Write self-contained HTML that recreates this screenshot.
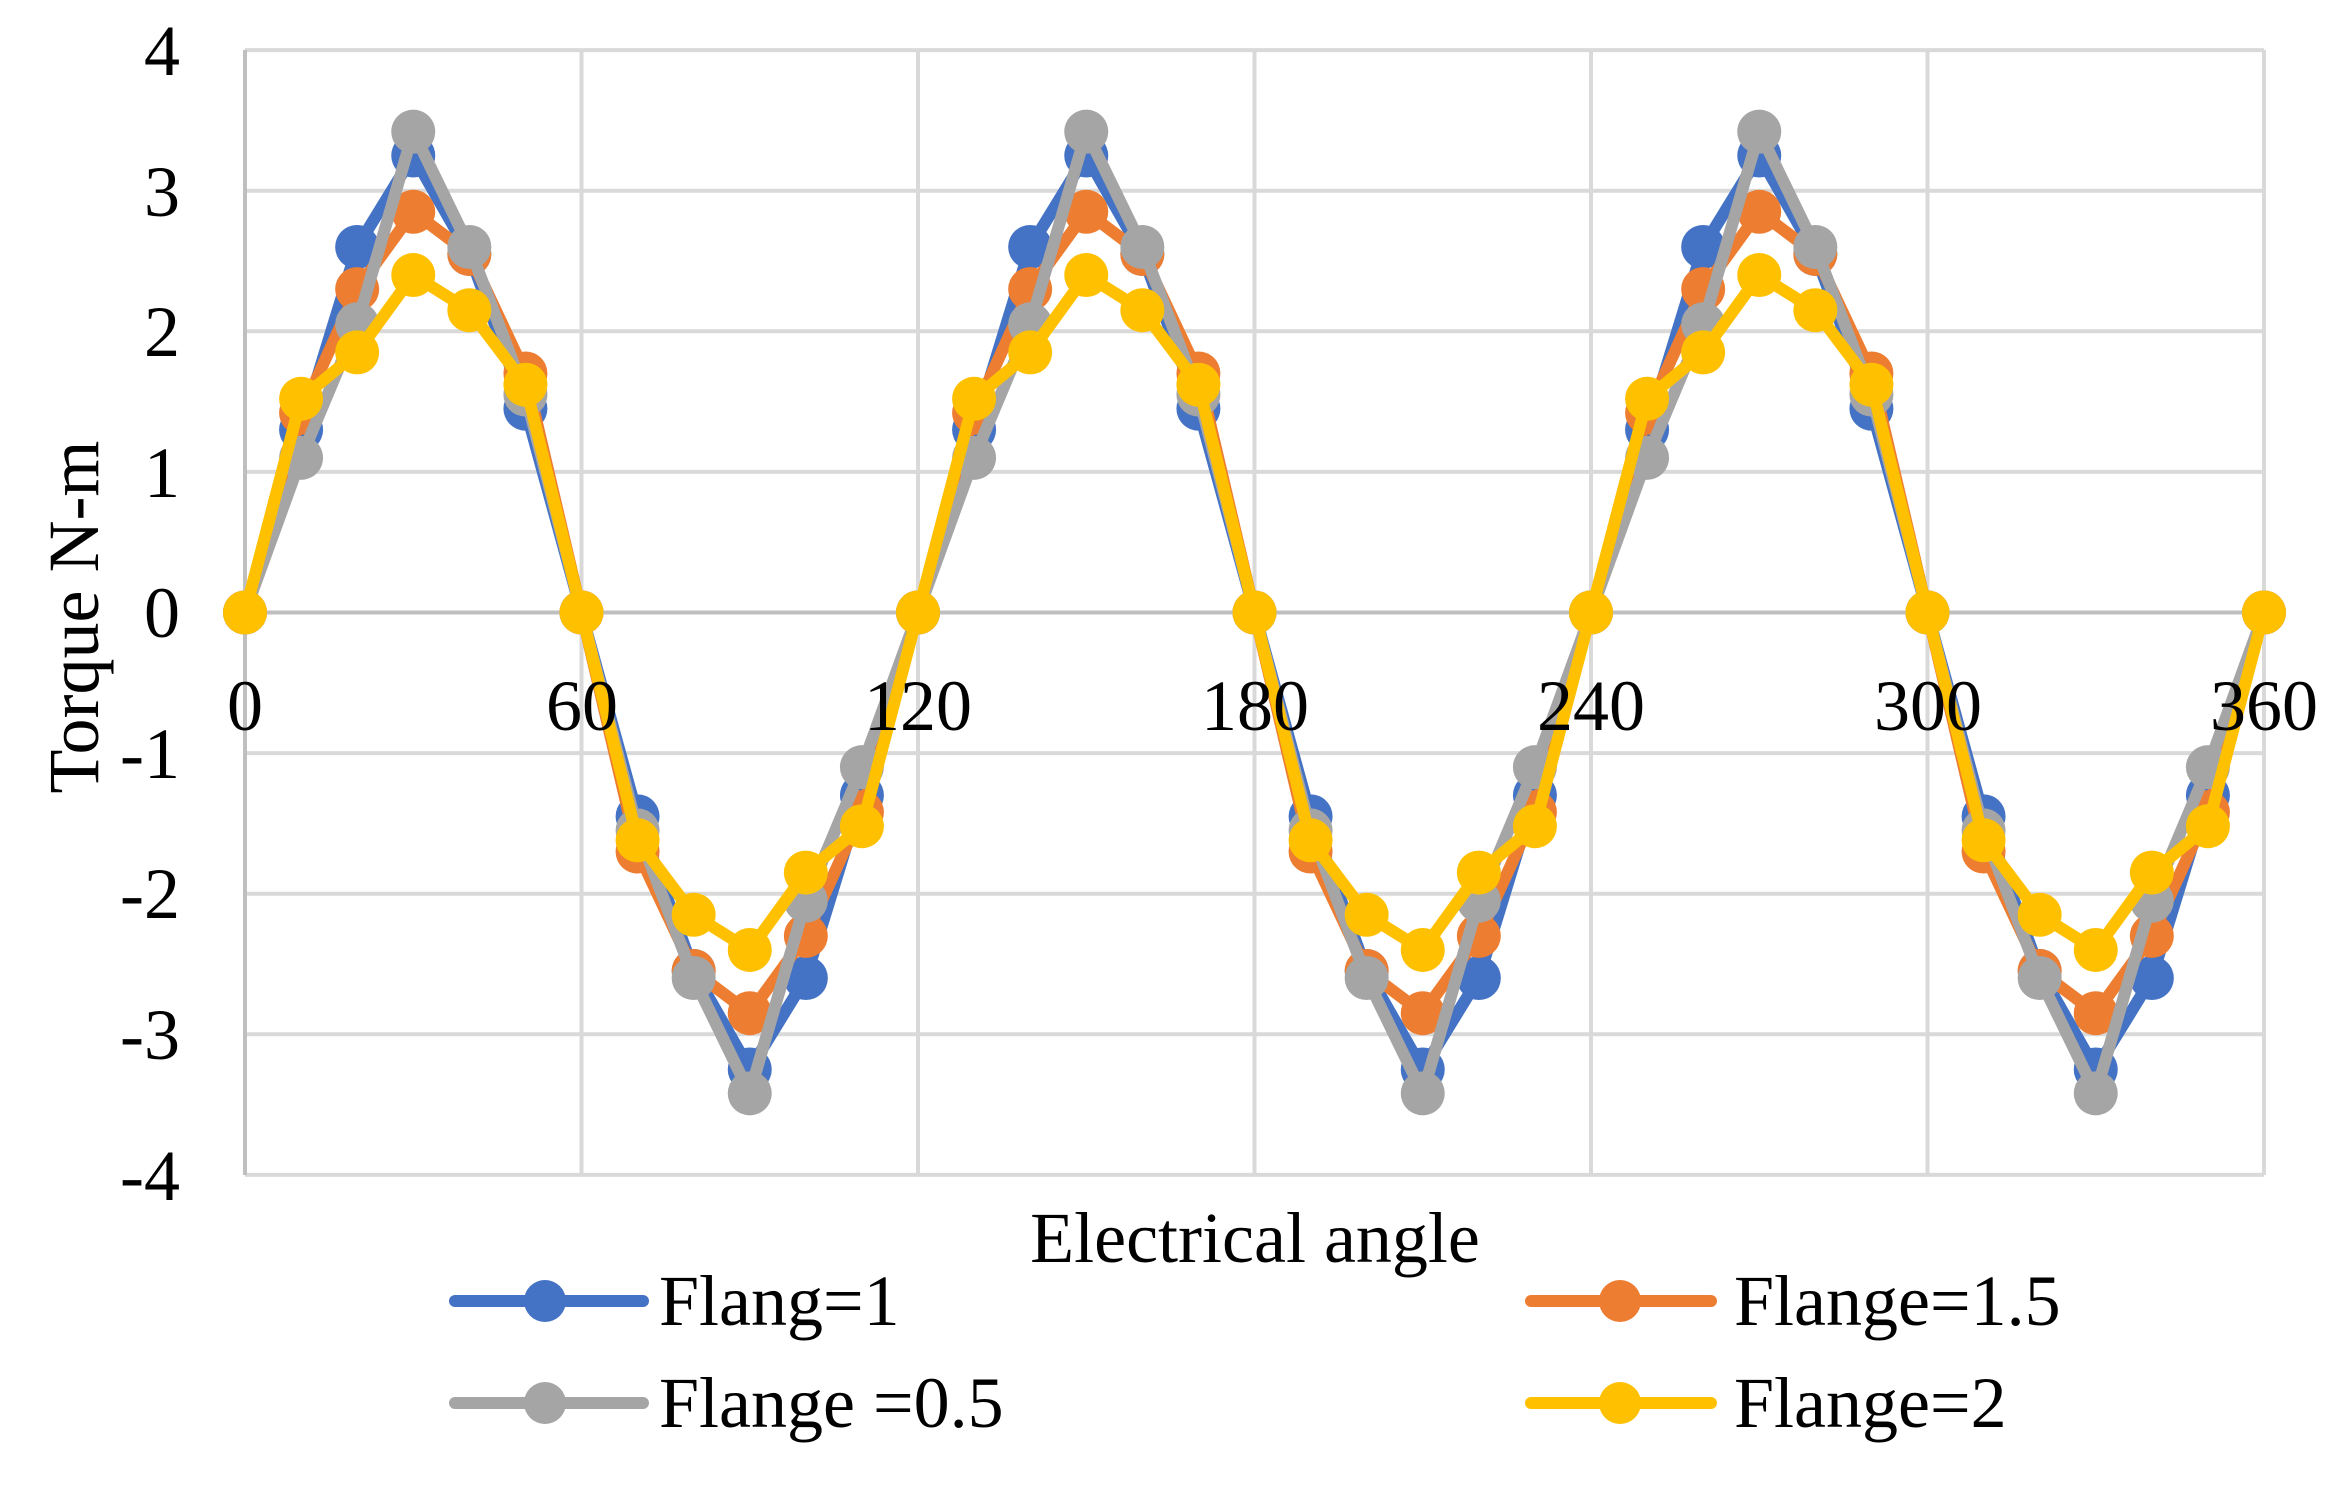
<!DOCTYPE html>
<html><head><meta charset="utf-8"><style>
html,body{margin:0;padding:0;background:#fff;}
svg{display:block;}
</style></head><body>
<svg id="s" width="2346" height="1493" viewBox="0 0 2346 1493" xmlns="http://www.w3.org/2000/svg">
<rect width="2346" height="1493" fill="#fff"/>
<g id="grid" stroke="#d9d9d9" stroke-width="4" fill="none"></g>
<g id="series"></g>
<g font-size="72" font-family="'Liberation Serif', 'Times New Roman', 'DejaVu Serif', serif" fill="#000" style="font-family:'Liberation Serif','Times New Roman',serif">
<text x="180" y="75" text-anchor="end">4</text>
<text x="180" y="216" text-anchor="end">3</text>
<text x="180" y="356" text-anchor="end">2</text>
<text x="180" y="497" text-anchor="end">1</text>
<text x="180" y="637" text-anchor="end">0</text>
<text x="180" y="778" text-anchor="end">-1</text>
<text x="180" y="918" text-anchor="end">-2</text>
<text x="180" y="1059" text-anchor="end">-3</text>
<text x="180" y="1200" text-anchor="end">-4</text>
<text x="245" y="730" text-anchor="middle">0</text>
<text x="582" y="730" text-anchor="middle">60</text>
<text x="918" y="730" text-anchor="middle">120</text>
<text x="1255" y="730" text-anchor="middle">180</text>
<text x="1591" y="730" text-anchor="middle">240</text>
<text x="1928" y="730" text-anchor="middle">300</text>
<text x="2264" y="730" text-anchor="middle">360</text>
<text transform="translate(98,617) rotate(-90)" text-anchor="middle">Torque N-m</text>
<text x="1255" y="1262" text-anchor="middle">Electrical  angle</text>
<text x="659" y="1325">Flang=1</text>
<text x="1734" y="1325">Flange=1.5</text>
<text x="659" y="1427">Flange =0.5</text>
<text x="1734" y="1427">Flange=2</text>
</g>
<g stroke-width="12" stroke-linecap="round">
<line x1="455" y1="1301" x2="643" y2="1301" stroke="#4472c4"/><circle cx="545" cy="1301" r="21" fill="#4472c4"/>
<line x1="1531" y1="1301" x2="1711" y2="1301" stroke="#ed7d31"/><circle cx="1620" cy="1301" r="21" fill="#ed7d31"/>
<line x1="455" y1="1403" x2="643" y2="1403" stroke="#a5a5a5"/><circle cx="545" cy="1403" r="21" fill="#a5a5a5"/>
<line x1="1531" y1="1403" x2="1711" y2="1403" stroke="#ffc000"/><circle cx="1620" cy="1403" r="21" fill="#ffc000"/>
</g>
</svg>
<script>
var NS="http://www.w3.org/2000/svg";
function X(a){return 245+a*2019/360;}
function Y(v){return 612.5-140.6*v;}
var g=document.getElementById("grid");
function ln(p,x1,y1,x2,y2,c){var l=document.createElementNS(NS,"line");l.setAttribute("x1",x1);l.setAttribute("y1",y1);l.setAttribute("x2",x2);l.setAttribute("y2",y2);if(c)l.setAttribute("stroke",c);p.appendChild(l);}
for(var v=-4;v<=4;v++){ln(g,245,Y(v),2264,Y(v),v==0?"#bfbfbf":null);}
for(var a=0;a<=360;a+=60){ln(g,X(a),50,X(a),1175,a==0?"#bfbfbf":null);}
var S=[["#4472c4",[0,1.3,2.6,3.25,2.55,1.45,0]],["#ed7d31",[0,1.42,2.3,2.85,2.55,1.7,0]],["#a5a5a5",[0,1.1,2.05,3.42,2.6,1.55,0]],["#ffc000",[0,1.52,1.85,2.4,2.15,1.62,0]]];
var sg=document.getElementById("series");
S.forEach(function(s){
 var pts=[];
 for(var i=0;i<=36;i++){var k=i%12;var v=k<=6?s[1][k]:-s[1][12-k];pts.push([X(i*10),Y(v)]);}
 var pl=document.createElementNS(NS,"polyline");
 pl.setAttribute("points",pts.map(function(p){return p[0]+","+p[1];}).join(" "));
 pl.setAttribute("fill","none");pl.setAttribute("stroke",s[0]);pl.setAttribute("stroke-width","12");pl.setAttribute("stroke-linejoin","round");
 sg.appendChild(pl);
 pts.forEach(function(p){var c=document.createElementNS(NS,"circle");c.setAttribute("cx",p[0]);c.setAttribute("cy",p[1]);c.setAttribute("r","22");c.setAttribute("fill",s[0]);sg.appendChild(c);});
});
</script>
</body></html>
